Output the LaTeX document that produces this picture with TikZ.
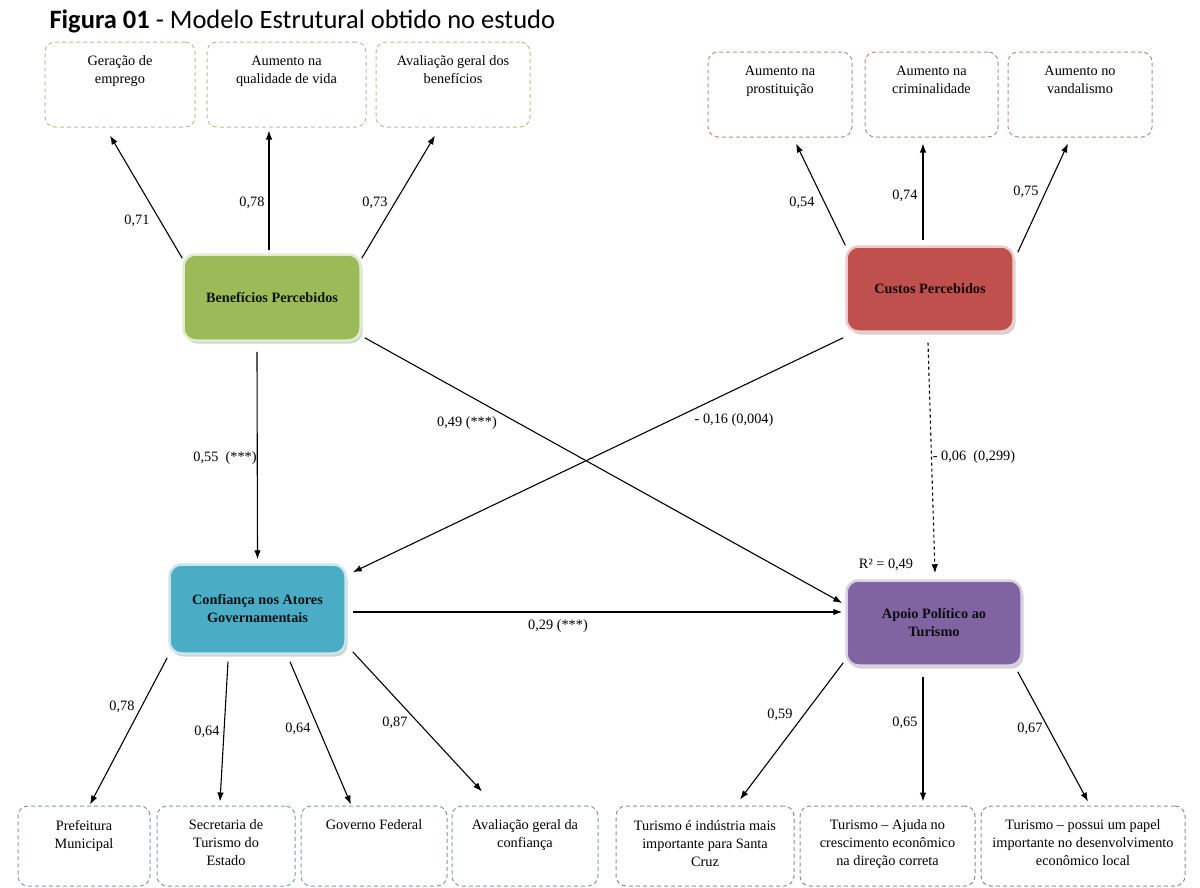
\documentclass[tikz,border=0pt]{standalone}
\usepackage{fontspec}
\setmainfont{Liberation Serif}
\newfontfamily\titlefont{Carlito}
\usetikzlibrary{arrows.meta,shadows}
\definecolor{vgreen}{HTML}{9BBB59}
\definecolor{vred}{HTML}{C0504D}
\definecolor{vblue}{HTML}{4BACC6}
\definecolor{vpurple}{HTML}{8064A2}
\definecolor{olv}{HTML}{BFBB92}
\definecolor{rosy}{HTML}{C0888A}
\definecolor{slate}{HTML}{8497B0}
\definecolor{grayd}{HTML}{8C8C8C}
\begin{document}
\begin{tikzpicture}[x=1pt,y=-1pt,>={Latex[length=9pt,width=6.5pt]},
    lat/.style={draw=#1!30!white,line width=2.5pt,rounded corners=12pt,fill=#1,text=#1!10!black,
      font=\fontsize{14.3}{18}\selectfont\bfseries,align=center,
      drop shadow={opacity=0.35,shadow xshift=2pt,shadow yshift=-3pt}},
    ind/.style={draw=#1,dash pattern=on 4pt off 3pt,line width=1pt,rounded corners=10pt,
      minimum height=85pt,inner sep=0pt},
    lbl/.style={anchor=north,yshift=-14pt,align=center,inner sep=0pt,font=\fontsize{14.3}{18}\selectfont},
    num/.style={inner sep=0pt,font=\fontsize{14.3}{18}\selectfont},
    every path/.style={line width=1.1pt}]
  \useasboundingbox (0,0) rectangle (1200,887);
  \fill[white] (0,0) rectangle (1200,887);
  \node[anchor=base west,inner sep=0pt,font=\titlefont\fontsize{26.5}{30}\selectfont] (tit) at (49,28)
    {\textbf{Figura 01} - Modelo Estrutural obtido no estudo};

  \node[ind=olv,minimum width=150pt,label={[lbl]north:Geração de\\emprego}] (gera) at (120,84.5) {};
  \node[ind=olv,minimum width=159pt,label={[lbl]north:Aumento na\\qualidade de vida}] (qual) at (286.5,84.5) {};
  \node[ind=olv,minimum width=154pt,label={[lbl]north:Avaliação geral dos\\benefícios}] (avb) at (453,84.5) {};
  \node[ind=rosy,minimum width=144pt,label={[lbl]north:Aumento na\\prostituição}] (prost) at (780,94.5) {};
  \node[ind=rosy,minimum width=133pt,label={[lbl]north:Aumento na\\criminalidade}] (crim) at (931.5,94.5) {};
  \node[ind=rosy,minimum width=144pt,label={[lbl]north:Aumento no\\vandalismo}] (vand) at (1080,94.5) {};
  \node[ind=slate,minimum width=132pt,minimum height=80pt,label={[lbl]north:Prefeitura\\Municipal}] (pref) at (84,846) {};
  \node[ind=slate,minimum width=138pt,minimum height=80pt,label={[lbl]north:Secretaria de\\Turismo do\\Estado}] (secr) at (226,846) {};
  \node[ind=slate,minimum width=146pt,minimum height=80pt,label={[lbl]north:Governo Federal}] (gov) at (374,846) {};
  \node[ind=slate,minimum width=146pt,minimum height=80pt,label={[lbl]north:Avaliação geral da\\confiança}] (avc) at (525,846) {};
  \node[ind=grayd,minimum width=178pt,minimum height=80pt,label={[lbl]north:Turismo é indústria mais\\importante para Santa\\Cruz}] (tur1) at (705,846) {};
  \node[ind=grayd,minimum width=175pt,minimum height=80pt,label={[lbl]north:Turismo – Ajuda no\\crescimento econômico\\na direção correta}] (tur2) at (887.5,846) {};
  \node[ind=grayd,minimum width=204pt,minimum height=80pt,label={[lbl]north:Turismo – possui um papel\\importante no desenvolvimento\\econômico local}] (tur3) at (1083,846) {};

  \node[lat=vgreen,minimum width=177pt,minimum height=86pt] (ben) at (272,297.5) {Benefícios Percebidos};
  \node[lat=vred,minimum width=167pt,minimum height=85pt] (cus) at (930,289) {Custos Percebidos};
  \node[lat=vblue,minimum width=176pt,minimum height=89pt] (conf) at (257.5,609) {Confiança nos Atores\\Governamentais};
  \node[lat=vpurple,minimum width=175pt,minimum height=85pt] (apo) at (934,623) {Apoio Político ao\\Turismo};

  \draw[->] ([yshift=-5pt]ben.north west) -- ([xshift=-10pt,yshift=-8pt]gera.south);
  \draw[->] ([xshift=-3pt,yshift=3pt]ben.north) -- ([xshift=-17.5pt,yshift=-3pt]qual.south);
  \draw[->] ([yshift=-5pt]ben.north east) -- ([xshift=-18pt,yshift=-8pt]avb.south);
  \draw[->] (cus.north west) -- ([xshift=16pt,yshift=-6pt]prost.south);
  \draw[->] ([xshift=-7pt,yshift=5pt]cus.north) -- ([xshift=-8.5pt,yshift=-6pt]crim.south);
  \draw[->] ([xshift=3pt,yshift=-7pt]cus.north east) -- ([xshift=-12pt,yshift=-6pt]vand.south);

  \draw[->] ([xshift=-15pt,yshift=-10pt]ben.south) -- ([yshift=4pt]conf.north);
  \draw[->] ([xshift=3pt,yshift=4pt]ben.south east) -- ([xshift=-3pt,yshift=20pt]apo.west);
  \draw[->] ([xshift=-2pt,yshift=-5pt]cus.south west) -- ([xshift=6pt,yshift=-9pt]conf.north east);
  \draw[->,dashed] ([xshift=-2pt,yshift=-10pt]cus.south) -- ([xshift=1pt,yshift=6pt]apo.north);
  \draw[->] ([xshift=6pt,yshift=-3pt]conf.east) -- ([xshift=-3pt,yshift=11pt]apo.west);

  \draw[->] ([xshift=-1pt,yshift=-3pt]conf.south west) -- ([xshift=6pt,yshift=1pt]pref.north);
  \draw[->] ([xshift=-29.5pt,yshift=-7pt]conf.south) -- ([xshift=-6pt,yshift=4pt]secr.north);
  \draw[->] ([xshift=32.5pt,yshift=-7pt]conf.south) -- ([xshift=-23pt,yshift=1pt]gov.north);
  \draw[->] ([xshift=6pt,yshift=3pt]conf.south east) -- ([xshift=-43pt,yshift=14pt]avc.north);
  \draw[->] ([xshift=-2pt,yshift=4pt]apo.south west) -- ([xshift=35pt,yshift=6pt]tur1.north);
  \draw[->] ([xshift=-11pt,yshift=-10pt]apo.south) -- ([xshift=35.5pt,yshift=4pt]tur2.north);
  \draw[->] ([xshift=-5pt,yshift=-5pt]apo.south east) -- ([xshift=5pt,yshift=4pt]tur3.north);

  \node[num] (w1) at (137,221) {0,71};
  \node[num] (w2) at (252,203) {0,78};
  \node[num] (w3) at (375,203) {0,73};
  \node[num] (w4) at (802,203) {0,54};
  \node[num] (w5) at (905,196) {0,74};
  \node[num] (w6) at (1026,192) {0,75};
  \node[num] (p1) at (225,458) {0,55~~(***)};
  \node[num] (p2) at (467,423) {0,49 (***)};
  \node[num] (p3) at (734,420) {- 0,16 (0,004)};
  \node[num] (p4) at (974,457) {- 0,06~~(0,299)};
  \node[num] (p5) at (558,626) {0,29 (***)};
  \node[num] (r2) at (886,565) {R² = 0,49};
  \node[num] (w7) at (122,707) {0,78};
  \node[num] (w8) at (207,732) {0,64};
  \node[num] (w9) at (298,729) {0,64};
  \node[num] (w10) at (395,723) {0,87};
  \node[num] (w11) at (780,715) {0,59};
  \node[num] (w12) at (905,723) {0,65};
  \node[num] (w13) at (1030,729) {0,67};
\end{tikzpicture}
\end{document}
